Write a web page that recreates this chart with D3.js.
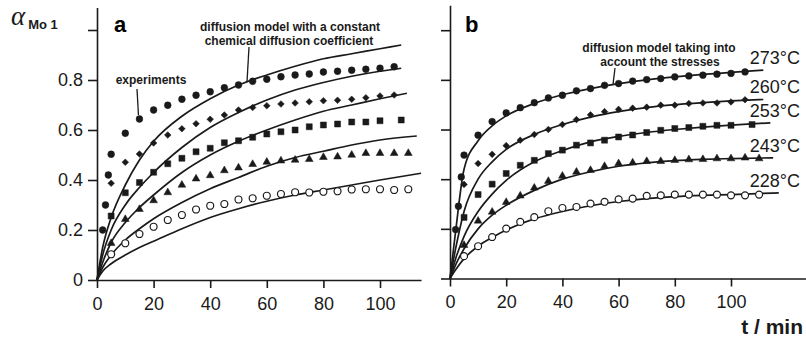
<!DOCTYPE html>
<html lang="en">
<head>
<meta charset="UTF-8">
<title>alpha Mo1 vs time - two diffusion models</title>
<script src="https://d3js.org/d3.v7.min.js"></script>
<style>
  body { margin: 0; background: #fff; }
  svg { display: block; font-family: "Liberation Sans", Arial, Helvetica, sans-serif; }
  .axis path, .axis line { stroke: #1a1a1a; stroke-width: 1.6; }
  .axis text { font-size: 18px; fill: #1a1a1a; }
  .model { fill: none; stroke: #1a1a1a; stroke-width: 1.7; }
  .note { font-size: 12px; font-weight: bold; fill: #1a1a1a; }
  .leader { stroke: #1a1a1a; stroke-width: 1.3; }
</style>
</head>
<body>
<svg id="chart" width="806" height="339"></svg>
<script>
// temperatures (series)
const temps = ["273°C", "260°C", "253°C", "243°C", "228°C"];

// experiment times (min)
const tEarly = [2, 3, 4];
const tExp = [5, 10, 15, 20, 25, 30, 35, 40, 45, 50, 55, 60, 65, 70, 75, 80, 85, 90, 95, 100, 105, 110];
const tSq = [5, 10, 15, 20, 25, 30, 35, 40, 45, 50, 55, 60, 65, 70, 75, 80, 85, 90, 95, 100, 107.5];

// panel a, experiments
const a273early = [0.20, 0.30, 0.42];
const a273 = [0.503, 0.587, 0.644, 0.68, 0.699, 0.723, 0.739, 0.753, 0.769, 0.78, 0.795, 0.803, 0.813, 0.82, 0.824, 0.832, 0.835, 0.839, 0.843, 0.847, 0.853];
const a260 = [0.387, 0.471, 0.504, 0.548, 0.58, 0.605, 0.625, 0.643, 0.66, 0.68, 0.69, 0.697, 0.704, 0.708, 0.713, 0.717, 0.719, 0.723, 0.729, 0.736, 0.74];
const a253 = [0.256, 0.349, 0.39, 0.431, 0.465, 0.487, 0.513, 0.527, 0.549, 0.557, 0.571, 0.584, 0.593, 0.60, 0.613, 0.62, 0.624, 0.632, 0.632, 0.637, 0.64];
const a243 = [0.147, 0.243, 0.283, 0.318, 0.35, 0.38, 0.405, 0.418, 0.438, 0.449, 0.463, 0.472, 0.477, 0.48, 0.483, 0.491, 0.493, 0.50, 0.507, 0.507, 0.507, 0.507];
const a228 = [0.103, 0.147, 0.184, 0.213, 0.24, 0.26, 0.282, 0.297, 0.304, 0.322, 0.327, 0.337, 0.344, 0.351, 0.35, 0.353, 0.355, 0.362, 0.363, 0.363, 0.36, 0.363];

// panel b, experiments
const b273early = [0.197, 0.291, 0.409];
const b273 = [0.497, 0.577, 0.632, 0.667, 0.688, 0.708, 0.727, 0.738, 0.756, 0.765, 0.778, 0.785, 0.795, 0.801, 0.805, 0.812, 0.816, 0.819, 0.823, 0.826, 0.832];
const b260 = [0.379, 0.463, 0.50, 0.535, 0.557, 0.58, 0.60, 0.62, 0.64, 0.659, 0.672, 0.681, 0.686, 0.69, 0.698, 0.698, 0.705, 0.707, 0.707, 0.711, 0.72];
const b253 = [0.246, 0.338, 0.38, 0.423, 0.456, 0.476, 0.503, 0.517, 0.537, 0.546, 0.557, 0.57, 0.578, 0.588, 0.597, 0.604, 0.608, 0.613, 0.617, 0.617, 0.62];
const b243 = [0.134, 0.232, 0.268, 0.307, 0.333, 0.365, 0.392, 0.413, 0.429, 0.436, 0.452, 0.463, 0.466, 0.472, 0.472, 0.476, 0.479, 0.48, 0.483, 0.483, 0.486, 0.483];
const b228 = [0.09, 0.13, 0.167, 0.201, 0.228, 0.247, 0.271, 0.284, 0.288, 0.302, 0.309, 0.319, 0.322, 0.333, 0.335, 0.338, 0.338, 0.338, 0.338, 0.335, 0.335, 0.338];

// model curves, sampled at tModel then at the curve's own end time
const tModel = [0, 2, 5, 10, 15, 20, 30, 40, 50, 60, 70, 80, 90, 100];
const tEndA = [107.5, 107.5, 109.5, 113, 114.5];
const tEndB = [111.5, 111.5, 114, 115, 117];
const mA273 = [0, 0.13, 0.25, 0.38, 0.48, 0.555, 0.655, 0.725, 0.78, 0.82, 0.855, 0.885, 0.905, 0.925, 0.94];
const mA260 = [0, 0.10, 0.20, 0.30, 0.37, 0.43, 0.53, 0.61, 0.67, 0.72, 0.76, 0.79, 0.815, 0.835, 0.847];
const mA253 = [0, 0.07, 0.15, 0.23, 0.29, 0.34, 0.43, 0.50, 0.555, 0.60, 0.64, 0.675, 0.70, 0.725, 0.747];
const mA243 = [0, 0.05, 0.10, 0.16, 0.205, 0.245, 0.31, 0.365, 0.41, 0.455, 0.49, 0.515, 0.54, 0.56, 0.576];
const mA228 = [0, 0.035, 0.065, 0.10, 0.13, 0.155, 0.205, 0.25, 0.285, 0.315, 0.34, 0.36, 0.38, 0.40, 0.427];
const mB273 = [0, 0.19, 0.44, 0.555, 0.615, 0.655, 0.705, 0.74, 0.765, 0.785, 0.80, 0.812, 0.822, 0.83, 0.839];
const mB260 = [0, 0.12, 0.27, 0.40, 0.47, 0.52, 0.58, 0.62, 0.65, 0.672, 0.688, 0.70, 0.708, 0.715, 0.721];
const mB253 = [0, 0.08, 0.17, 0.27, 0.34, 0.395, 0.47, 0.515, 0.55, 0.572, 0.588, 0.60, 0.61, 0.618, 0.627];
const mB243 = [0, 0.055, 0.12, 0.20, 0.255, 0.295, 0.355, 0.40, 0.43, 0.452, 0.466, 0.475, 0.48, 0.483, 0.486];
const mB228 = [0, 0.035, 0.08, 0.13, 0.165, 0.195, 0.24, 0.27, 0.293, 0.31, 0.322, 0.33, 0.335, 0.338, 0.345];

const xTicks = [0, 20, 40, 60, 80, 100];
const yTicks = [0, 0.2, 0.4, 0.6, 0.8, 1.0];

const svg = d3.select("#chart");

const xA = d3.scaleLinear().domain([0, 114.5]).range([97, 97 + 114.5 * 2.83]);
const yA = d3.scaleLinear().domain([0, 1.09]).range([280, 7.5]);
const xB = d3.scaleLinear().domain([0, 126.5]).range([450, 450 + 126.5 * 2.81]);
const yB = d3.scaleLinear().domain([0, 1.1]).range([278.5, 278.5 - 1.1 * 248.3]);

const markers = [
  { type: d3.symbolCircle, size: 36, fill: "#1a1a1a", rot: 0 },
  { type: d3.symbolSquare, size: 22, fill: "#1a1a1a", rot: 45 },
  { type: d3.symbolSquare, size: 36, fill: "#1a1a1a", rot: 0 },
  { type: d3.symbolTriangle, size: 26, fill: "#1a1a1a", rot: 0 },
  { type: d3.symbolCircle, size: 38, fill: "#fff", rot: 0 }
];

function pts(ts, ys) {
  return ys.map((v, i) => ({ t: ts[i], v: v }));
}

function drawPanel(x, y, exp, models, tEnd, yLabels) {
  const g = svg.append("g");

  const line = d3.line()
    .x(d => x(d.t))
    .y(d => y(d.v))
    .curve(d3.curveMonotoneX);

  models.forEach((m, i) => {
    const data = pts(tModel.concat([tEnd[i]]), m);
    g.append("path").attr("class", "model").attr("d", line(data));
  });

  exp.forEach((s, i) => {
    const mk = markers[i];
    const sym = d3.symbol().type(mk.type).size(mk.size);
    g.selectAll(null)
      .data(s)
      .join("path")
      .attr("d", sym)
      .attr("transform", d => `translate(${x(d.t)},${y(d.v)}) rotate(${mk.rot})`)
      .attr("fill", mk.fill)
      .attr("stroke", "#1a1a1a")
      .attr("stroke-width", i === 4 ? 1.2 : 0.5);
  });

  g.append("g")
    .attr("class", "axis")
    .attr("transform", `translate(0,${y(0)})`)
    .call(d3.axisBottom(x).tickValues(xTicks).tickSize(8).tickPadding(9).tickSizeOuter(0).tickFormat(d3.format("d")));

  g.append("g")
    .attr("class", "axis")
    .attr("transform", `translate(${x(0)},0)`)
    .call(d3.axisLeft(y).tickValues(yTicks).tickSize(9).tickPadding(5).tickSizeOuter(0)
      .tickFormat(d => !yLabels || d === 1 ? "" : (d === 0 ? "0" : d3.format(".1f")(d))));

  return g;
}

const expA = [
  pts(tEarly, a273early).concat(pts(tExp, a273)),
  pts(tExp, a260), pts(tSq, a253), pts(tExp, a243), pts(tExp, a228)
];
const expB = [
  pts(tEarly, b273early).concat(pts(tExp, b273)),
  pts(tExp, b260), pts(tSq, b253), pts(tExp, b243), pts(tExp, b228)
];
const modelsA = [mA273, mA260, mA253, mA243, mA228];
const modelsB = [mB273, mB260, mB253, mB243, mB228];

const gA = drawPanel(xA, yA, expA, modelsA, tEndA, true);
const gB = drawPanel(xB, yB, expB, modelsB, tEndB, false);

// temperature labels at the end of the b curves
temps.forEach((lab, i) => {
  gB.append("text")
    .attr("x", 800)
    .attr("y", yB(modelsB[i][modelsB[i].length - 1]) - 6)
    .attr("text-anchor", "end")
    .attr("font-size", 18)
    .attr("fill", "#1a1a1a")
    .text(lab);
});

// y axis title
const yt = svg.append("text").attr("x", 11).attr("y", 25).attr("fill", "#1a1a1a");
yt.append("tspan").attr("font-family", "Liberation Serif, Times New Roman, serif")
  .attr("font-style", "italic").attr("font-size", 27).text("α");
yt.append("tspan").attr("font-size", 13).attr("font-weight", "bold").attr("dy", 4).attr("dx", 3).text("Mo 1");

// panel letters
svg.append("text").attr("x", 114).attr("y", 32).attr("font-size", 22).attr("font-weight", "bold").text("a");
svg.append("text").attr("x", 465).attr("y", 32).attr("font-size", 22).attr("font-weight", "bold").text("b");

// x axis title
svg.append("text").attr("x", 803).attr("y", 334).attr("text-anchor", "end")
  .attr("font-size", 21).attr("font-weight", "bold").attr("fill", "#1a1a1a").text("t / min");

// annotations, panel a
svg.append("text").attr("class", "note").attr("x", 151).attr("y", 84).attr("text-anchor", "middle").text("experiments");
svg.append("line").attr("class", "leader")
  .attr("x1", 137).attr("y1", 89).attr("x2", xA(15) - 1).attr("y2", yA(a273[2]) - 4);

svg.append("text").attr("class", "note").attr("x", 290).attr("y", 31).attr("text-anchor", "middle").text("diffusion model with a constant");
svg.append("text").attr("class", "note").attr("x", 289).attr("y", 45).attr("text-anchor", "middle").text("chemical diffusion coefficient");
const curveA = d3.scaleLinear().domain(tModel).range(mA273);
svg.append("line").attr("class", "leader")
  .attr("x1", 249).attr("y1", 47).attr("x2", 247).attr("y2", yA(curveA(xA.invert(247))));

// annotations, panel b
svg.append("text").attr("class", "note").attr("x", 659).attr("y", 52).attr("text-anchor", "middle").text("diffusion model taking into");
svg.append("text").attr("class", "note").attr("x", 660).attr("y", 66).attr("text-anchor", "middle").text("account the stresses");
const curveB = d3.scaleLinear().domain(tModel).range(mB273);
svg.append("line").attr("class", "leader")
  .attr("x1", 615).attr("y1", 68).attr("x2", 613).attr("y2", yB(curveB(xB.invert(613))));
</script>
</body>
</html>
